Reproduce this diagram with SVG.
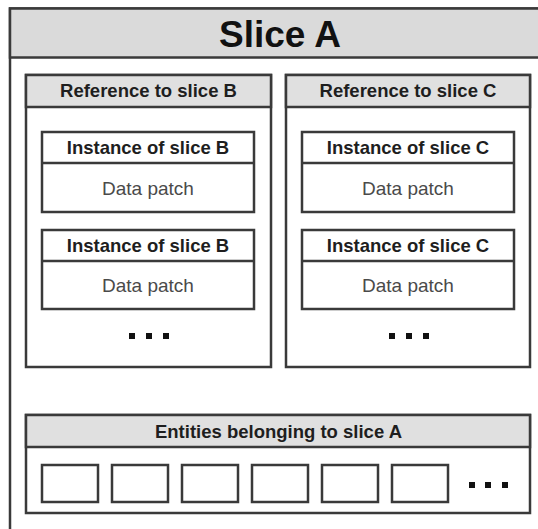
<svg xmlns="http://www.w3.org/2000/svg" width="538" height="529" viewBox="0 0 538 529">
<style>
.box{fill:#ffffff;stroke:#3a3a3a;stroke-width:2.5}
.hdr{fill:#e0e0e0;stroke:#3a3a3a;stroke-width:2.5}
.title{fill:#dadada;stroke:#3a3a3a;stroke-width:2.5}
.t{font-family:"Liberation Sans",Arial,sans-serif;text-anchor:middle}
.h{font-size:18.5px;font-weight:bold;fill:#1e1e1e}
.d{font-size:19px;fill:#4a4a4a}
.dot{fill:#111}
</style>
<rect width="538" height="529" fill="#ffffff"/>
<g id="slice-a">
<rect class="box" x="10" y="8.5" width="540" height="540"/>
<rect class="title" x="10" y="8.5" width="540" height="49"/>
<text class="t" x="280" y="47" style="font-size:37px;font-weight:bold;fill:#111">Slice A</text>
</g>
<g id="ref-b">
<rect class="box" x="26" y="75" width="245" height="292"/>
<rect class="hdr" x="26" y="75" width="245" height="32"/>
<text class="t h" x="148.5" y="97">Reference to slice B</text>
</g>
<g id="inst-b1">
<rect class="box" x="42" y="132" width="212" height="80"/>
<line x1="42" y1="163" x2="254" y2="163" stroke="#3a3a3a" stroke-width="2.5"/>
<text class="t h" x="148" y="154">Instance of slice B</text>
<text class="t d" x="148" y="195">Data patch</text>
</g>
<g id="inst-b2">
<rect class="box" x="42" y="230" width="212" height="79"/>
<line x1="42" y1="261" x2="254" y2="261" stroke="#3a3a3a" stroke-width="2.5"/>
<text class="t h" x="148" y="252">Instance of slice B</text>
<text class="t d" x="148" y="292">Data patch</text>
</g>
<g id="dots-b">
<rect class="dot" x="129" y="333" width="6" height="6"/>
<rect class="dot" x="146" y="333" width="6" height="6"/>
<rect class="dot" x="163" y="333" width="6" height="6"/>
</g>
<g id="ref-c">
<rect class="box" x="286" y="75" width="244" height="292"/>
<rect class="hdr" x="286" y="75" width="244" height="32"/>
<text class="t h" x="408" y="97">Reference to slice C</text>
</g>
<g id="inst-c1">
<rect class="box" x="302" y="132" width="212" height="80"/>
<line x1="302" y1="163" x2="514" y2="163" stroke="#3a3a3a" stroke-width="2.5"/>
<text class="t h" x="408" y="154">Instance of slice C</text>
<text class="t d" x="408" y="195">Data patch</text>
</g>
<g id="inst-c2">
<rect class="box" x="302" y="230" width="212" height="79"/>
<line x1="302" y1="261" x2="514" y2="261" stroke="#3a3a3a" stroke-width="2.5"/>
<text class="t h" x="408" y="252">Instance of slice C</text>
<text class="t d" x="408" y="292">Data patch</text>
</g>
<g id="dots-c">
<rect class="dot" x="389" y="333" width="6" height="6"/>
<rect class="dot" x="406" y="333" width="6" height="6"/>
<rect class="dot" x="423" y="333" width="6" height="6"/>
</g>
<g id="entities">
<rect class="box" x="26" y="415" width="504" height="98"/>
<rect class="hdr" x="26" y="415" width="504" height="32"/>
<text class="t h" x="278.5" y="438">Entities belonging to slice A</text>
<rect class="box" x="42" y="465" width="56" height="37"/>
<rect class="box" x="112" y="465" width="56" height="37"/>
<rect class="box" x="182" y="465" width="56" height="37"/>
<rect class="box" x="252" y="465" width="56" height="37"/>
<rect class="box" x="322" y="465" width="56" height="37"/>
<rect class="box" x="392" y="465" width="56" height="37"/>
<rect class="dot" x="469" y="482" width="6" height="6"/>
<rect class="dot" x="485" y="482" width="6" height="6"/>
<rect class="dot" x="502" y="482" width="6" height="6"/>
</g>
<g id="connectors"/>
</svg>
